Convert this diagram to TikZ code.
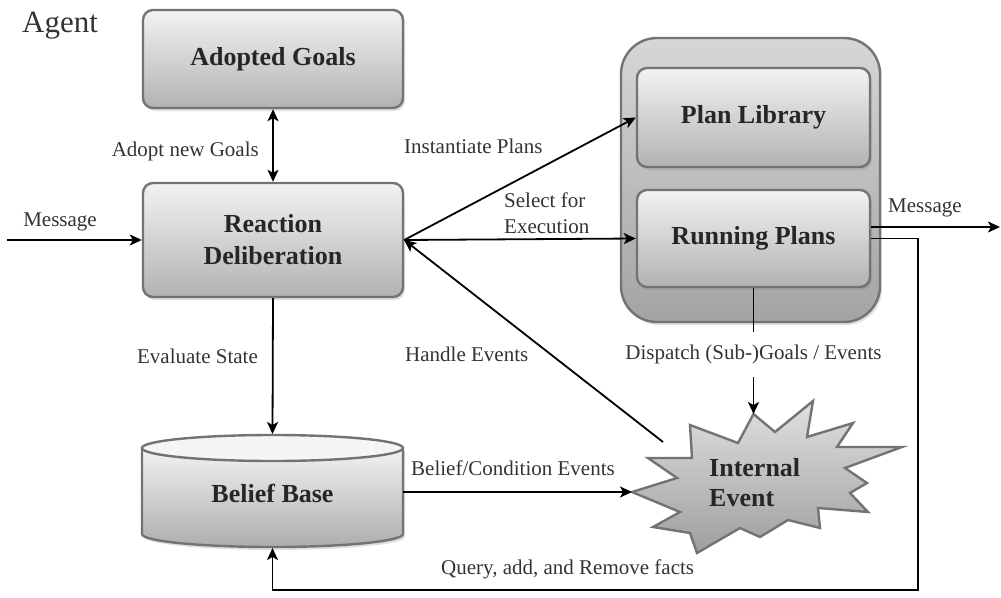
\documentclass[tikz,border=0pt]{standalone}
\usepackage{fontspec}
\setmainfont{Liberation Serif}
\usetikzlibrary{arrows.meta,positioning,calc,shadows}
\tikzset{
  box/.style={draw=black!55, line width=2.4pt, rounded corners=10pt,
    top color=black!5, bottom color=black!30,
    drop shadow={shadow xshift=2pt, shadow yshift=-3pt, opacity=0.25},
    minimum width=260pt, align=center, text=black!85,
    font=\fontsize{26}{32}\selectfont\bfseries},
  title/.style={text=black!85, align=left, inner sep=0pt,
    font=\fontsize{26}{30}\selectfont\bfseries},
  lbl/.style={text=black!80, inner sep=0pt, font=\fontsize{21}{26}\selectfont},
  arrow/.style={-{Stealth[length=12pt, width=11pt, inset=3pt]}, line width=1.8pt},
  biarrow/.style={{Stealth[length=12pt, width=11pt, inset=3pt]}-{Stealth[length=12pt, width=11pt, inset=3pt]}, line width=1.8pt},
  line/.style={line width=1.8pt},
  evt/.style={draw=black!55, line width=2.4pt, top color=black!12, bottom color=black!38},
}

\begin{document}
\begin{tikzpicture}[x=1pt,y=-1pt]
  \useasboundingbox (0,0) rectangle (1001,597);

  \node[anchor=base west, inner sep=0pt, text=black!80,
    font=\fontsize{31}{36}\selectfont] (agent) at (22,32) {Agent};

  % left column
  \node[box, minimum height=98pt] (goals) at (273,59) {Adopted Goals};
  \node[box, minimum height=114pt] (react) at (273,240) {Reaction\\Deliberation};

  % belief base (cylinder)
  \path[draw=black!55, line width=2.4pt, top color=black!5, bottom color=black!32,
    drop shadow={shadow xshift=2pt, shadow yshift=-3pt, opacity=0.25}]
    (142,448) -- (142,534) arc[start angle=180, end angle=0, x radius=130.5, y radius=13]
    -- (403,448) -- cycle;
  \draw[draw=black!55, line width=2.4pt, fill=black!4] (272.5,448) ellipse[x radius=130.5, y radius=13];
  \node[title, align=center] (belief) at (272.5,493) {Belief Base};
  \coordinate (bbtop) at (272.5,434);
  \coordinate (bbbot) at (272.5,548);
  \coordinate (bbeast) at (403,492);

  % plans
  \node[box, rounded corners=36pt, minimum width=259pt, minimum height=284pt,
    top color=black!16, bottom color=black!36] (plans) at (750.5,180) {};
  \node[box, minimum width=233pt, minimum height=99pt] (plib) at (753.5,117.5) {Plan Library};
  \node[box, minimum width=233pt, minimum height=97pt] (run) at (753.5,238.5) {Running Plans};

  % internal event (starburst)
  \draw[evt] (753.5,414) -- (775,432) -- (813,401) -- (807,437) -- (853,423)
    -- (837,447) -- (902,447) -- (845,468) -- (867,483) -- (850,493) -- (868,512)
    -- (818,508) -- (820,528) -- (788,520) -- (760,537) -- (740,528) -- (697,553)
    -- (690,533) -- (653,527) -- (680,512) -- (632,492) -- (677,478) -- (648,458)
    -- (692,458) -- (690,425) -- (738,443) -- cycle;
  \node[title, anchor=west] (event) at (709,483) {Internal\\Event};
  \coordinate (evtop) at (753.5,414);
  \coordinate (evwest) at (632,492);
  \coordinate (evnw) at (663,442);

  % connectors
  \coordinate (msgin) at (7,240);
  \coordinate (msgout) at (1000,227);
  \coordinate (loopc) at (918,590);
  \draw[biarrow] (react.north) -- (goals.south);
  \draw[arrow] (msgin) -- (react.west);
  \draw[arrow] (react.south) -- (bbtop);
  \draw[arrow] (bbeast) -- (evwest);
  \draw[arrow] (evnw) -- (react.east);
  \draw[arrow] (react.east) -- (plib.west);
  \draw[arrow] (react.east) -- (run.west);
  \draw[arrow] ([yshift=11.5pt]run.east) -- (msgout);
  \draw[arrow] (run.east) -| (loopc) -| (bbbot);
  \draw[arrow] (run.south) -- node[lbl, pos=0.53, fill=white, inner xsep=2pt, inner ysep=13pt]
    (dispatch) {Dispatch (Sub-)Goals / Events} (evtop);

  % labels
  \node[lbl, anchor=base east] (adoptlbl) at (259,156) {Adopt new Goals};
  \node[lbl, anchor=base] (msginlbl) at (60,226) {Message};
  \node[lbl, anchor=base east] (evallbl) at (258,363) {Evaluate State};
  \node[lbl, anchor=base west] (instlbl) at (404,153) {Instantiate Plans};
  \node[lbl, anchor=west, align=left] (selectlbl) at (504,213) {Select for\\Execution};
  \node[lbl, anchor=base west] (handlelbl) at (405,361) {Handle Events};
  \node[lbl, anchor=base west] (condlbl) at (411,475) {Belief/Condition Events};
  \node[lbl, anchor=base west] (querylbl) at (441,574) {Query, add, and Remove facts};
  \node[lbl, anchor=base west] (msgoutlbl) at (888,212) {Message};
\end{tikzpicture}
\end{document}
